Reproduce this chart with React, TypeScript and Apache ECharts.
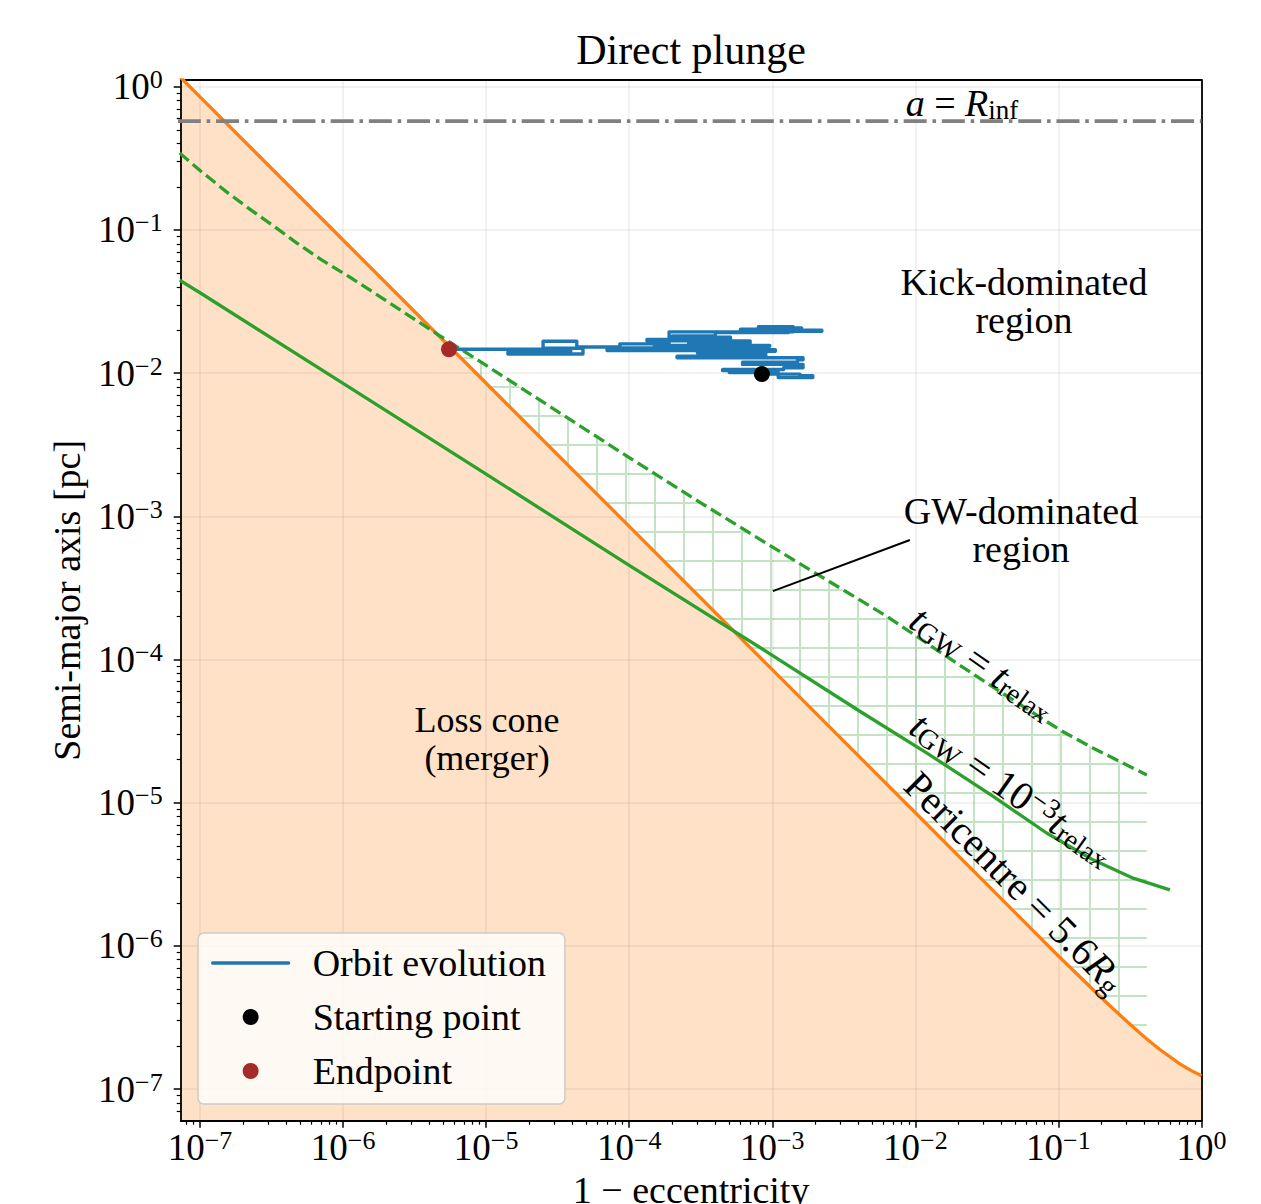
import { useEffect, useRef } from 'react';
import * as echarts from 'echarts';

const FONT = '"Liberation Serif", "DejaVu Serif", serif';

// axis extents (decades)
const X_MIN_EXP = -7.135;
const X_MAX_EXP = 0;
const Y_MIN_EXP = -7.221;
const Y_MAX_EXP = 0.047;
const xMajorExponents = [-7, -6, -5, -4, -3, -2, -1, 0];
const yMajorExponents = [-7, -6, -5, -4, -3, -2, -1, 0];

// [1 - e, a (pc)]
const pericentreCurve = [
  [7.0e-8, 1.214], [1e-7, 0.85], [1e-6, 0.085], [1e-5, 8.5e-3], [1e-4, 8.5e-4],
  [1e-3, 8.5e-5], [1e-2, 8.5e-6], [0.05, 1.7e-6], [0.1, 8.5e-7], [0.1411, 6.09e-7],
  [0.1947, 4.45e-7], [0.2686, 3.29e-7], [0.3705, 2.46e-7], [0.415, 2.24e-7],
  [0.5111, 1.89e-7], [0.7055, 1.5e-7], [0.8417, 1.35e-7], [1.0, 1.24e-7],
];

const tgwRelaxCurve = [
  [7.2e-8, 0.345], [1.0e-7, 0.26], [1.54e-7, 0.1836], [2.2e-7, 0.141], [3.25e-7, 0.107],
  [4.7e-7, 0.0815], [6.9e-7, 0.0627], [1.17e-6, 0.0454], [2.2e-6, 0.0301], [4.6e-6, 0.0186],
  [1e-5, 0.01132], [1e-4, 2.57e-3], [3.12e-4, 1.253e-3], [1e-3, 6.11e-4], [6.32e-3, 2.0e-4],
  [0.02, 9.25e-5], [0.039, 5.97e-5], [0.1023, 3.22e-5], [0.1739, 2.41e-5], [0.415, 1.56e-5],
];

const tgwMilliRelaxCurve = [
  [7.2e-8, 0.0445], [1e-7, 0.0364], [1e-6, 8.49e-3], [1e-5, 1.97e-3], [1e-4, 4.54e-4],
  [1e-3, 1.07e-4], [4.09e-3, 4.35e-5], [0.01197, 2.23e-5], [0.035, 1.107e-5], [0.0826, 6.14e-6],
  [0.1746, 3.99e-6], [0.333, 2.97e-6], [0.601, 2.46e-6],
];

const rInf = 0.575;
const rInfLine = [[7.0e-8, rInf], [1.0, rInf]];
const gwRegionMinX = 4.6e-6;
const gwRegionMaxX = 0.415;
const gwPointer = [[1.01e-3, 3.0e-4], [9.16e-3, 6.83e-4]];

const orbitTrack = [
  [8.46e-4, 0.00984], [1.56e-3, 0.00984], [1.56e-3, 0.0096], [1.92e-3, 0.0096], [1.92e-3, 0.0093],
  [1.1e-3, 0.0093], [1.1e-3, 0.0101], [5.0e-4, 0.0101], [5.0e-4, 0.0104], [4.5e-4, 0.0104],
  [4.5e-4, 0.0106], [1.2e-3, 0.0106], [1.2e-3, 0.0109], [1.64e-3, 0.0109], [1.64e-3, 0.0115],
  [6.2e-4, 0.0115], [6.2e-4, 0.0119], [1.5e-3, 0.0119], [1.5e-3, 0.0124], [1.64e-3, 0.0124],
  [1.64e-3, 0.0128], [2.16e-4, 0.0128], [2.16e-4, 0.0131], [9.0e-4, 0.0131], [9.0e-4, 0.0138],
  [3.0e-4, 0.0138], [3.0e-4, 0.0142], [1.05e-3, 0.0142], [1.05e-3, 0.0146], [1.2e-4, 0.0146],
  [1.2e-4, 0.0148], [8.0e-4, 0.0148], [8.0e-4, 0.0144], [7.0e-5, 0.0144], [7.0e-5, 0.015],
  [6.0e-4, 0.015], [6.0e-4, 0.0154], [9.6e-4, 0.0154], [9.6e-4, 0.0156], [1.5e-4, 0.0156],
  [1.5e-4, 0.0152], [5.0e-4, 0.0152], [5.0e-4, 0.0158],
  [2.6e-4, 0.0158], [2.6e-4, 0.0162], [7.0e-4, 0.0162], [7.0e-4, 0.0168], [1.33e-4, 0.0168],
  [1.33e-4, 0.0172], [5.1e-4, 0.0172], [5.1e-4, 0.0178], [2.0e-4, 0.0178], [2.0e-4, 0.0182],
  [4.0e-4, 0.0182], [4.0e-4, 0.0192], [1.3e-3, 0.0192], [1.3e-3, 0.0196], [2.22e-3, 0.0196],
  [2.22e-3, 0.0199], [6.0e-4, 0.0199], [6.0e-4, 0.0203], [1.6e-3, 0.0203], [1.6e-3, 0.0207],
  [8.0e-4, 0.0207], [8.0e-4, 0.0211], [1.4e-3, 0.0211], [1.4e-3, 0.0194], [1.9e-4, 0.0194],
  [1.9e-4, 0.016], [8.6e-5, 0.016], [8.6e-5, 0.0152], [4.3e-5, 0.0152], [4.3e-5, 0.0167],
  [2.5e-5, 0.0167], [2.5e-5, 0.0149], [4.75e-5, 0.0149], [4.75e-5, 0.0136], [1.42e-5, 0.0136],
  [1.42e-5, 0.0141], [3.9e-5, 0.0141], [3.9e-5, 0.0147], [5.5e-6, 0.01466],
];
const startingPoint = [8.46e-4, 0.00984];
const endPoint = [5.5e-6, 0.01466];

const toLog = (pts: number[][]) => pts.map(([x, y]) => [Math.log10(x), Math.log10(y)]);

function minorExps(min: number, max: number) {
  const out: number[] = [];
  for (let n = -9; n <= 0; n++) {
    for (let k = 2; k <= 9; k++) {
      const v = n + Math.log10(k);
      if (v > min && v < max) out.push(v);
    }
  }
  return out;
}

const tickRich = {
  b: { fontFamily: FONT, fontSize: 37, lineHeight: 40, color: '#000' },
  s: { fontFamily: FONT, fontSize: 26, lineHeight: 22, verticalAlign: 'top', color: '#000' },
};
const tickFormatter = (v: number) => {
  const e = Math.round(v);
  return `{b|10}{s|${e < 0 ? '\u2212' + -e : e}}`;
};

const makeRich = (size: number) => ({
  n: { fontFamily: FONT, fontSize: size, lineHeight: size + 2, color: '#000' },
  i: { fontFamily: FONT, fontSize: size, lineHeight: size + 2, fontStyle: 'italic', color: '#000' },
  s: { fontFamily: FONT, fontSize: Math.round(size * 0.71), lineHeight: 18, verticalAlign: 'bottom', color: '#000' },
  p: { fontFamily: FONT, fontSize: Math.round(size * 0.71), lineHeight: 22, verticalAlign: 'top', color: '#000' },
});
const textRich = makeRich(38);
const rotRich = makeRich(40);

export default function App() {
  const ref = useRef<HTMLDivElement>(null);
  useEffect(() => {
    if (!ref.current) return;
    const chart = echarts.init(ref.current, undefined, { renderer: 'svg' });

    const tile = document.createElement('canvas');
    tile.width = 29;
    tile.height = 29;
    const ctx = tile.getContext('2d')!;
    ctx.strokeStyle = '#c4e3c4';
    ctx.lineWidth = 2;
    ctx.beginPath();
    ctx.moveTo(17, 0); ctx.lineTo(17, 29);
    ctx.moveTo(0, 10); ctx.lineTo(29, 10);
    ctx.stroke();
    const hatch = { image: tile, repeat: 'repeat', imageWidth: 29, imageHeight: 29 };

    const hatchUpper = tgwRelaxCurve.filter(([x]) => x >= gwRegionMinX && x <= gwRegionMaxX);
    const hatchLower = pericentreCurve.filter(([x]) => x > gwRegionMinX && x <= gwRegionMaxX).reverse();
    const hatchPolygon = toLog([...hatchUpper, ...hatchLower]);

    const lineBlack = { color: '#000', width: 1.8 };
    const base = (extra: any) => ({
      type: 'value', gridIndex: 0, z: 2,
      axisLine: { show: false, onZero: false },
      axisTick: { show: false },
      axisLabel: { show: false },
      splitLine: { show: false },
      ...extra,
    });

    const option: any = {
      animation: false,
      backgroundColor: '#fff',
      grid: { left: 180.7, top: 80, width: 1020.8, height: 1040.7, outerBoundsMode: 'none' },
      xAxis: [
        base({
          min: X_MIN_EXP, max: X_MAX_EXP, position: 'bottom',
          axisLine: { show: true, onZero: false, lineStyle: lineBlack },
          axisTick: { show: true, customValues: xMajorExponents, length: 7, lineStyle: { color: '#000', width: 1.5 } },
          axisLabel: { show: true, customValues: xMajorExponents, formatter: tickFormatter, rich: tickRich, margin: 7 },
          splitLine: { show: true, lineStyle: { color: 'rgba(0,0,0,0.07)', width: 1.5 } },
          name: '1 \u2212 eccentricity', nameLocation: 'middle', nameGap: 46,
          nameTextStyle: { fontFamily: FONT, fontSize: 38, lineHeight: 38, color: '#000' },
        }),
        base({
          min: X_MIN_EXP, max: X_MAX_EXP, position: 'bottom',
          axisTick: { show: true, customValues: minorExps(X_MIN_EXP, X_MAX_EXP), length: 4, lineStyle: { color: '#000', width: 1.2 } },
        }),
        base({
          min: X_MIN_EXP, max: X_MAX_EXP, position: 'top',
          axisLine: { show: true, onZero: false, lineStyle: lineBlack },
        }),
      ],
      yAxis: [
        base({
          min: Y_MIN_EXP, max: Y_MAX_EXP, position: 'left',
          axisLine: { show: true, onZero: false, lineStyle: lineBlack },
          axisTick: { show: true, customValues: yMajorExponents, length: 7, lineStyle: { color: '#000', width: 1.5 } },
          axisLabel: { show: true, customValues: yMajorExponents, formatter: tickFormatter, rich: tickRich, margin: 18 },
          splitLine: { show: true, lineStyle: { color: 'rgba(0,0,0,0.07)', width: 1.5 } },
          name: 'Semi-major axis [pc]', nameLocation: 'middle', nameGap: 95,
          nameTextStyle: { fontFamily: FONT, fontSize: 38, lineHeight: 38, color: '#000' },
        }),
        base({
          min: Y_MIN_EXP, max: Y_MAX_EXP, position: 'left',
          axisTick: { show: true, customValues: minorExps(Y_MIN_EXP, Y_MAX_EXP), length: 4, lineStyle: { color: '#000', width: 1.2 } },
        }),
        base({
          min: Y_MIN_EXP, max: Y_MAX_EXP, position: 'right',
          axisLine: { show: true, onZero: false, lineStyle: lineBlack },
        }),
      ],
      legend: {
        orient: 'vertical', left: 198, top: 933,
        data: [
          { name: 'Orbit evolution', itemStyle: { opacity: 0 }, lineStyle: { width: 3.3, color: '#1f77b4' } },
          'Starting point',
          'Endpoint',
        ],
        itemWidth: 76, itemHeight: 16, itemGap: 16,
        padding: [11, 19, 14, 13],
        backgroundColor: 'rgba(255,255,255,0.8)', borderColor: '#cccccc', borderWidth: 1.5, borderRadius: 6,
        textStyle: { fontFamily: FONT, fontSize: 38, lineHeight: 38, color: '#000', padding: [0, 0, 0, 19] },
        selectedMode: false,
        z: 10,
      },
      series: [
        {
          name: 'loss-cone', type: 'line', data: toLog(pericentreCurve), showSymbol: false, symbol: 'none',
          lineStyle: { width: 0 }, areaStyle: { color: 'rgba(255,127,14,0.23)', opacity: 1, origin: 'start' },
          z: 1, silent: true,
        },
        {
          name: 'gw-region', type: 'custom', data: [[-3, -3]], z: 1, silent: true, clip: true,
          renderItem: (_params: any, api: any) => ({
            type: 'polygon',
            shape: { points: hatchPolygon.map((p) => api.coord(p)) },
            style: { fill: hatch, stroke: null },
          }),
        },
        {
          name: 'Pericentre', type: 'line', data: toLog(pericentreCurve), showSymbol: false, symbol: 'none',
          lineStyle: { color: '#ff7f0e', width: 3.3, join: 'round' }, z: 3, silent: true,
        },
        {
          name: 'tGW=trelax', type: 'line', data: toLog(tgwRelaxCurve), showSymbol: false, symbol: 'none',
          lineStyle: { color: '#2ca02c', width: 3.3, type: [12, 5.3], join: 'round' }, z: 3, silent: true,
        },
        {
          name: 'tGW=1e-3 trelax', type: 'line', data: toLog(tgwMilliRelaxCurve), showSymbol: false, symbol: 'none',
          lineStyle: { color: '#2ca02c', width: 3.3, join: 'round' }, z: 3, silent: true,
        },
        {
          name: 'Rinf', type: 'line', data: toLog(rInfLine), showSymbol: false, symbol: 'none',
          lineStyle: { color: '#808080', width: 3.6, type: [23, 5.8, 3.6, 5.8] }, z: 3, silent: true,
        },
        {
          name: 'pointer', type: 'line', data: toLog(gwPointer), showSymbol: false, symbol: 'none',
          lineStyle: { color: '#000', width: 2 }, z: 3, silent: true,
        },
        {
          name: 'Orbit evolution', type: 'line', data: toLog(orbitTrack), showSymbol: false, symbol: 'none',
          lineStyle: { color: '#1f77b4', width: 3.4, join: 'round', cap: 'round' }, itemStyle: { color: '#1f77b4' },
          z: 4, silent: true,
        },
        {
          name: 'Starting point', type: 'scatter', data: toLog([startingPoint]), symbolSize: 16,
          itemStyle: { color: '#000', opacity: 1 }, z: 5, silent: true,
        },
        {
          name: 'Endpoint', type: 'scatter', data: toLog([endPoint]), symbolSize: 16,
          itemStyle: { color: '#a52a2a', opacity: 1 }, z: 5, silent: true,
        },
      ],
      graphic: [
        {
          type: 'text', x: 691, y: 50, z: 10,
          style: { text: 'Direct plunge', font: `42px ${FONT}`, fill: '#000', align: 'center', verticalAlign: 'middle' },
        },
        {
          type: 'text', x: 962, y: 103, z: 10,
          style: { text: '{i|a}{n| = }{i|R}{s|inf}', rich: textRich, align: 'center', verticalAlign: 'middle' },
        },
        {
          type: 'text', x: 1024, y: 282, z: 10,
          style: { text: 'Kick-dominated', font: `38px ${FONT}`, fill: '#000', align: 'center', verticalAlign: 'middle' },
        },
        {
          type: 'text', x: 1024, y: 320, z: 10,
          style: { text: 'region', font: `38px ${FONT}`, fill: '#000', align: 'center', verticalAlign: 'middle' },
        },
        {
          type: 'text', x: 1021, y: 511, z: 10,
          style: { text: 'GW-dominated', font: `38px ${FONT}`, fill: '#000', align: 'center', verticalAlign: 'middle' },
        },
        {
          type: 'text', x: 1021, y: 549, z: 10,
          style: { text: 'region', font: `38px ${FONT}`, fill: '#000', align: 'center', verticalAlign: 'middle' },
        },
        {
          type: 'text', x: 487, y: 720, z: 10,
          style: { text: 'Loss cone', font: `36px ${FONT}`, fill: '#000', align: 'center', verticalAlign: 'middle' },
        },
        {
          type: 'text', x: 487, y: 758, z: 10,
          style: { text: '(merger)', font: `36px ${FONT}`, fill: '#000', align: 'center', verticalAlign: 'middle' },
        },
        {
          type: 'text', x: 983, y: 663, z: 10, rotation: (-35 * Math.PI) / 180,
          style: { text: '{i|t}{s|GW}{n| = }{i|t}{s|relax}', rich: rotRich, align: 'center', verticalAlign: 'middle' },
        },
        {
          type: 'text', x: 1012, y: 789, z: 10, rotation: (-35 * Math.PI) / 180,
          style: { text: '{i|t}{s|GW}{n| = 10}{p|\u22123}{i|t}{s|relax}', rich: rotRich, align: 'center', verticalAlign: 'middle' },
        },
        {
          type: 'text', x: 1015, y: 882, z: 10, rotation: (-45 * Math.PI) / 180,
          style: { text: '{n|Pericentre = 5.6}{i|R}{s|g}', rich: rotRich, align: 'center', verticalAlign: 'middle' },
        },
      ],
    };

    chart.setOption(option);
    return () => chart.dispose();
  }, []);

  return <div ref={ref} style={{ position: 'fixed', left: 0, top: 0, width: 1261, height: 1204 }} />;
}
